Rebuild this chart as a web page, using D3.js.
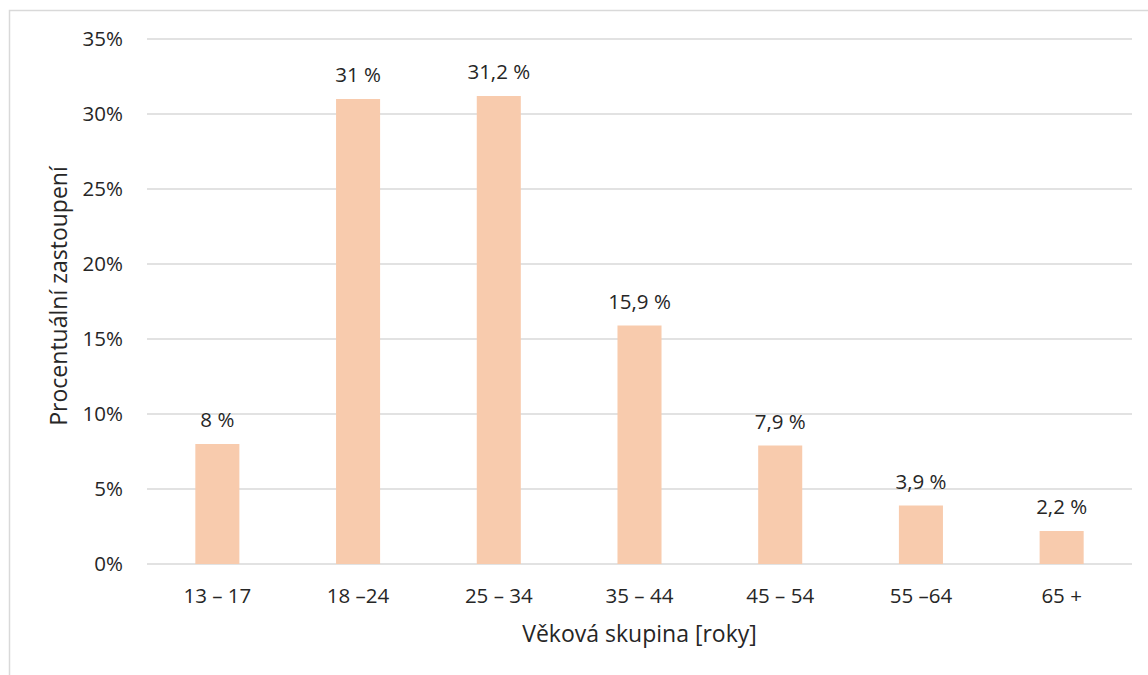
<!DOCTYPE html>
<html>
<head>
<meta charset="utf-8">
<script src="https://cdn.jsdelivr.net/npm/d3@7"></script>
<style>
  html, body { margin: 0; padding: 0; background: #fff; }
  svg { display: block; font-family: "Open Sans", sans-serif; }
</style>
</head>
<body>
<svg id="chart" width="1148" height="675"></svg>
<script>
const categories = ["13 – 17", "18 –24", "25 – 34", "35 – 44", "45 – 54", "55 –64", "65 +"];
const values = [8, 31, 31.2, 15.9, 7.9, 3.9, 2.2];
const valueLabels = ["8 %", "31 %", "31,2 %", "15,9 %", "7,9 %", "3,9 %", "2,2 %"];
const yTicks = [0, 5, 10, 15, 20, 25, 30, 35];
const yTickLabels = ["0%", "5%", "10%", "15%", "20%", "25%", "30%", "35%"];
const xTitle = "Věková skupina [roky]";
const yTitle = "Procentuální zastoupení";

const svg = d3.select("#chart");
const plotLeft = 147, plotRight = 1132, plotTop = 39, plotBottom = 564;

// outer border (only top and left edges visible)
svg.append("rect")
  .attr("x", 9.5).attr("y", 10.5)
  .attr("width", 1400).attr("height", 900)
  .attr("fill", "none").attr("stroke", "#d9d9d9").attr("stroke-width", 1.5);

const x = d3.scaleBand().domain(categories).range([plotLeft, plotRight])
  .paddingInner(0.687).paddingOuter(0.687 / 2);
const y = d3.scaleLinear().domain([0, 35]).range([plotBottom, plotTop]);

// gridlines
svg.append("g").selectAll("line").data(yTicks).join("line")
  .attr("x1", plotLeft).attr("x2", plotRight)
  .attr("y1", d => y(d)).attr("y2", d => y(d))
  .attr("stroke", "#d9d9d9").attr("stroke-width", 1.5);

// y tick labels
svg.append("g").selectAll("text").data(yTicks).join("text")
  .attr("x", 123).attr("y", d => y(d))
  .attr("dy", "0.36em")
  .attr("text-anchor", "end")
  .attr("font-size", 20.5).attr("fill", "#262626")
  .text((d, i) => yTickLabels[i]);

// bars
svg.append("g").selectAll("rect").data(values).join("rect")
  .attr("x", (d, i) => x(categories[i]))
  .attr("width", x.bandwidth())
  .attr("y", d => y(d))
  .attr("height", d => y(0) - y(d))
  .attr("fill", "#f8cbad");

// value labels
svg.append("g").selectAll("text").data(values).join("text")
  .attr("x", (d, i) => x(categories[i]) + x.bandwidth() / 2)
  .attr("y", d => y(d) - 17)
  .attr("text-anchor", "middle")
  .attr("font-size", 20.5).attr("fill", "#262626")
  .text((d, i) => valueLabels[i]);

// category labels
svg.append("g").selectAll("text").data(categories).join("text")
  .attr("x", d => x(d) + x.bandwidth() / 2)
  .attr("y", 603)
  .attr("text-anchor", "middle")
  .attr("font-size", 20.5).attr("fill", "#262626")
  .text(d => d);

// axis titles
svg.append("text")
  .attr("x", (plotLeft + plotRight) / 2).attr("y", 642)
  .attr("text-anchor", "middle")
  .attr("font-size", 23).attr("fill", "#262626")
  .text(xTitle);

svg.append("text")
  .attr("transform", "translate(67," + 296 + ") rotate(-90)")
  .attr("text-anchor", "middle")
  .attr("font-size", 23).attr("fill", "#262626")
  .text(yTitle);
</script>
</body>
</html>
